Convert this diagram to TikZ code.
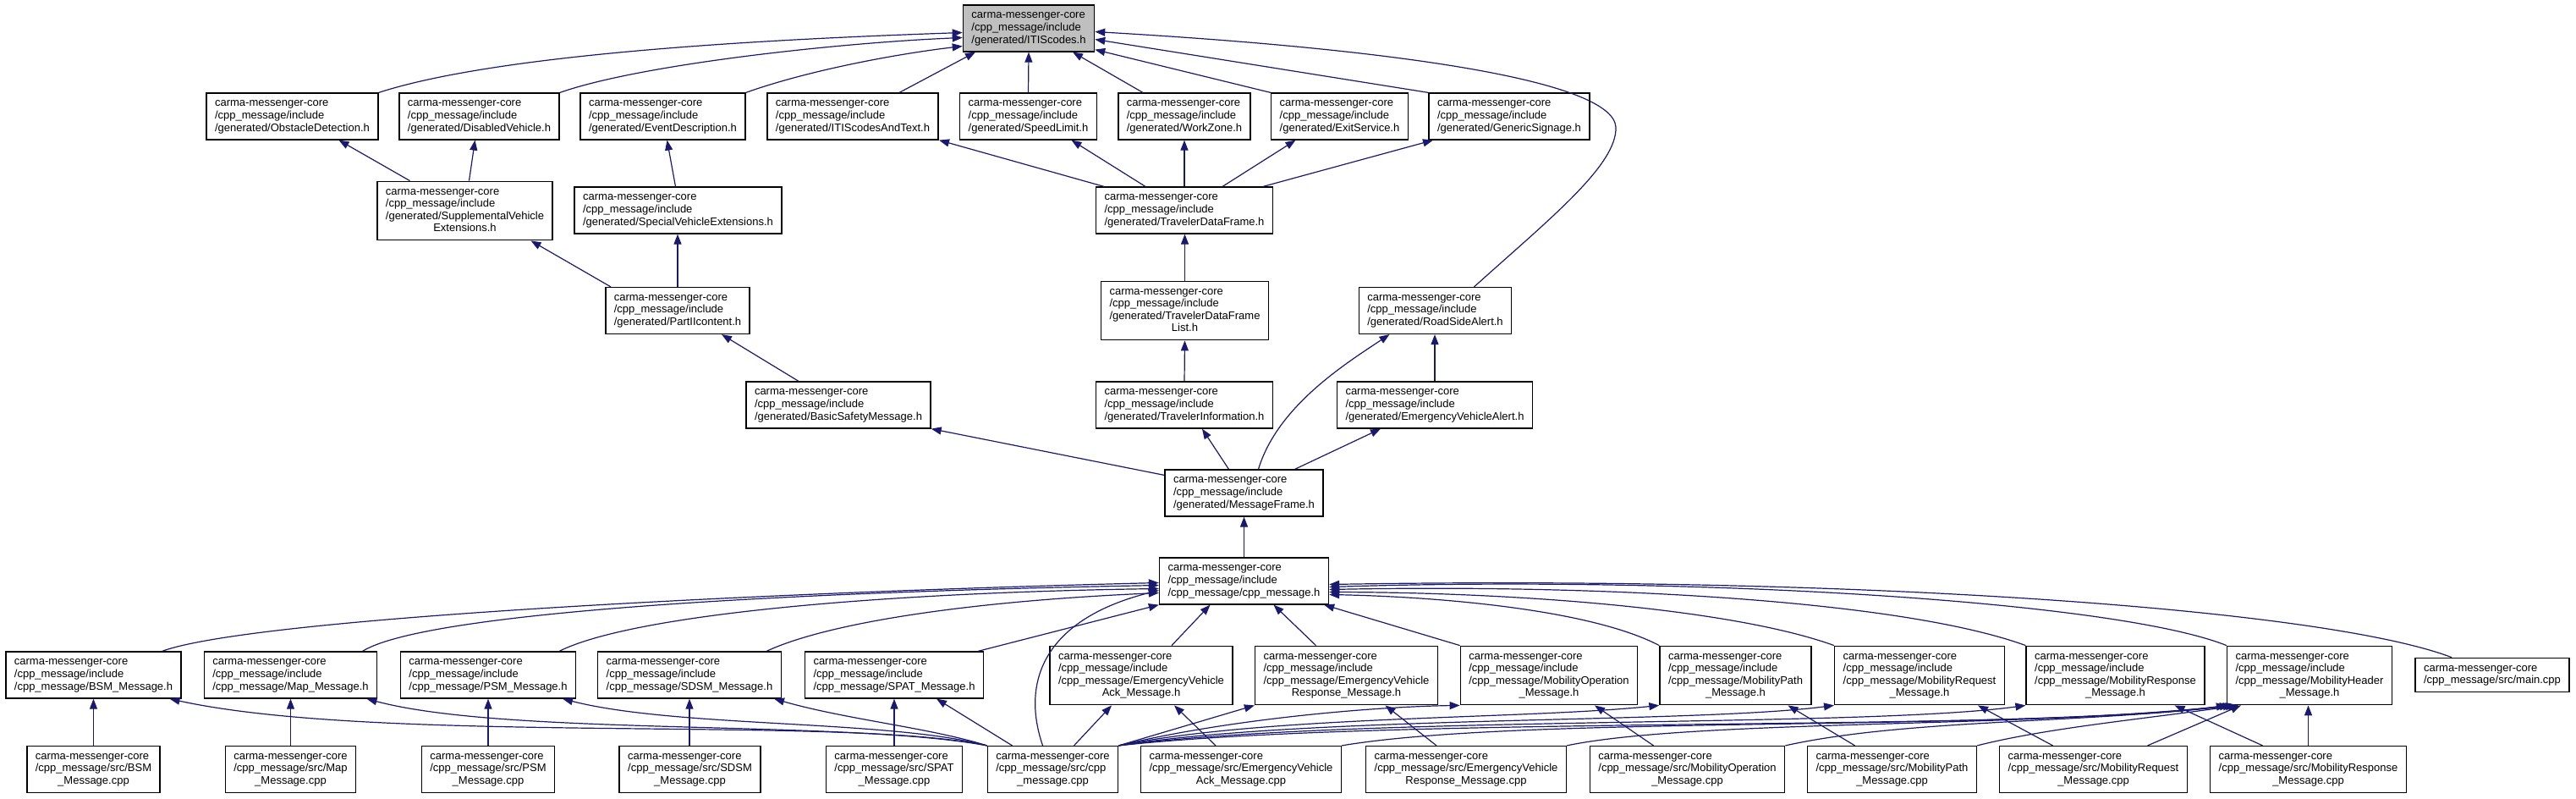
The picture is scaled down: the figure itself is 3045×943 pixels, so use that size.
\documentclass[tikz,border=0pt]{standalone}
\usepackage{fontspec}
\setmainfont{Liberation Sans}
\usetikzlibrary{arrows.meta,calc}
\definecolor{edgeblue}{HTML}{191970}
\newcommand{\flabel}[2]{\begin{tabular}{@{}l@{}}#1\\\multicolumn{1}{@{}c@{}}{#2}\end{tabular}}
\newcommand{\cmc}{carma-messenger-core}
\newcommand{\inc}{carma-messenger-core\\/cpp\_message/include}

\begin{document}
\begin{tikzpicture}[
  x=1pt, y=-1pt,
  file/.style={draw, line width=1.4pt, fill=white, inner xsep=10pt,
    inner ysep=5.5pt, font=\fontsize{13}{14.6}\selectfont},
  dep/.style={draw=edgeblue, line width=1.2pt},
  >={Triangle[length=12pt,width=9pt]},
]
\useasboundingbox (0,0) rectangle (3045,943);
\node[file, fill=gray!50] (ITIS) at (1216,33.5) {\flabel{\inc}{/generated/ITIScodes.h}};
\node[file] (OD) at (345.5,137.5) {\flabel{\inc}{/generated/ObstacleDetection.h}};
\node[file] (DV) at (566.5,137.5) {\flabel{\inc}{/generated/DisabledVehicle.h}};
\node[file] (ED) at (783.5,137.5) {\flabel{\inc}{/generated/EventDescription.h}};
\node[file] (IT) at (1008,137.5) {\flabel{\inc}{/generated/ITIScodesAndText.h}};
\node[file] (SL) at (1215.5,137.5) {\flabel{\inc}{/generated/SpeedLimit.h}};
\node[file] (WZ) at (1400,137.5) {\flabel{\inc}{/generated/WorkZone.h}};
\node[file] (ES) at (1583.5,137.5) {\flabel{\inc}{/generated/ExitService.h}};
\node[file] (GS) at (1784,137.5) {\flabel{\inc}{/generated/GenericSignage.h}};
\node[file] (SVE) at (549.5,249) {\flabel{\inc\\/generated/SupplementalVehicle}{Extensions.h}};
\node[file] (SPVE) at (801.5,248.5) {\flabel{\inc}{/generated/SpecialVehicleExtensions.h}};
\node[file] (TDF) at (1400,248.5) {\flabel{\inc}{/generated/TravelerDataFrame.h}};
\node[file] (PIIC) at (801,367) {\flabel{\inc}{/generated/PartIIcontent.h}};
\node[file] (TDFL) at (1400.5,367) {\flabel{\inc\\/generated/TravelerDataFrame}{List.h}};
\node[file] (RSA) at (1696.5,367) {\flabel{\inc}{/generated/RoadSideAlert.h}};
\node[file] (BSM) at (991,478.5) {\flabel{\inc}{/generated/BasicSafetyMessage.h}};
\node[file] (TI) at (1400,478.5) {\flabel{\inc}{/generated/TravelerInformation.h}};
\node[file] (EVA) at (1696,478.5) {\flabel{\inc}{/generated/EmergencyVehicleAlert.h}};
\node[file] (MF) at (1470.5,582.5) {\flabel{\inc}{/generated/MessageFrame.h}};
\node[file] (CPPH) at (1470.5,686.5) {\flabel{\inc}{/cpp\_message/cpp\_message.h}};

\node[file] (BSMH) at (110.5,797.5) {\flabel{\inc}{/cpp\_message/BSM\_Message.h}};
\node[file] (MAPH) at (343.5,797.5) {\flabel{\inc}{/cpp\_message/Map\_Message.h}};
\node[file] (PSMH) at (577,797.5) {\flabel{\inc}{/cpp\_message/PSM\_Message.h}};
\node[file] (SDSMH) at (815,797.5) {\flabel{\inc}{/cpp\_message/SDSM\_Message.h}};
\node[file] (SPATH) at (1057,797.5) {\flabel{\inc}{/cpp\_message/SPAT\_Message.h}};
\node[file] (EVAH) at (1349,798) {\flabel{\inc\\/cpp\_message/EmergencyVehicle}{Ack\_Message.h}};
\node[file] (EVRH) at (1591.5,798) {\flabel{\inc\\/cpp\_message/EmergencyVehicle}{Response\_Message.h}};
\node[file] (MOH) at (1831,798) {\flabel{\inc\\/cpp\_message/MobilityOperation}{\_Message.h}};
\node[file] (MPH) at (2051.5,798) {\flabel{\inc\\/cpp\_message/MobilityPath}{\_Message.h}};
\node[file] (MRQH) at (2269,798) {\flabel{\inc\\/cpp\_message/MobilityRequest}{\_Message.h}};
\node[file] (MRSH) at (2500.5,798) {\flabel{\inc\\/cpp\_message/MobilityResponse}{\_Message.h}};
\node[file] (MHH) at (2730,798) {\flabel{\inc\\/cpp\_message/MobilityHeader}{\_Message.h}};
\node[file] (MAIN) at (2946,797.5) {\flabel{\cmc}{/cpp\_message/src/main.cpp}};

\node[file] (BSMC) at (110.5,909) {\flabel{\cmc\\/cpp\_message/src/BSM}{\_Message.cpp}};
\node[file] (MAPC) at (343.5,909) {\flabel{\cmc\\/cpp\_message/src/Map}{\_Message.cpp}};
\node[file] (PSMC) at (577,909) {\flabel{\cmc\\/cpp\_message/src/PSM}{\_Message.cpp}};
\node[file] (SDSMC) at (815.5,909) {\flabel{\cmc\\/cpp\_message/src/SDSM}{\_Message.cpp}};
\node[file] (SPATC) at (1057,909) {\flabel{\cmc\\/cpp\_message/src/SPAT}{\_Message.cpp}};
\node[file] (CPPC) at (1244.5,909) {\flabel{\cmc\\/cpp\_message/src/cpp}{\_message.cpp}};
\node[file] (EVAC) at (1467,909) {\flabel{\cmc\\/cpp\_message/src/EmergencyVehicle}{Ack\_Message.cpp}};
\node[file] (EVRC) at (1733,909) {\flabel{\cmc\\/cpp\_message/src/EmergencyVehicle}{Response\_Message.cpp}};
\node[file] (MOC) at (1994.5,909) {\flabel{\cmc\\/cpp\_message/src/MobilityOperation}{\_Message.cpp}};
\node[file] (MPC) at (2236.5,909) {\flabel{\cmc\\/cpp\_message/src/MobilityPath}{\_Message.cpp}};
\node[file] (MRQC) at (2474.5,909) {\flabel{\cmc\\/cpp\_message/src/MobilityRequest}{\_Message.cpp}};
\node[file] (MRSC) at (2728.5,909) {\flabel{\cmc\\/cpp\_message/src/MobilityResponse}{\_Message.cpp}};

% includes of ITIScodes.h
\draw[dep,->] (OD.north east) .. controls (600,60) and (950,45) .. ([yshift=-5]ITIS.west);
\draw[dep,->] (DV.north east) .. controls (760,75) and (1000,50) .. ([yshift=-11]ITIS.west);
\draw[dep,->] (ED.north east) .. controls (950,85) and (1050,65) .. ([yshift=-21]ITIS.west);
\draw[dep,->] ([xshift=55]IT.north) -- ([xshift=-63]ITIS.south);
\draw[dep,->] (SL.north) -- (ITIS.south);
\draw[dep,->] ([xshift=-49]WZ.north) -- ([xshift=52]ITIS.south);
\draw[dep,->] (ES.north west) -- ([yshift=3]ITIS.south east);
\draw[dep,->] (GS.north west) -- ([yshift=-13]ITIS.east);
\draw[dep,->] ([xshift=46]RSA.north) .. controls (1830,260) and (1912,195) .. (1910,150)
  .. controls (1906,95) and (1650,58) .. ([yshift=-4]ITIS.east);

\draw[dep,->] ([xshift=-65]SVE.north) -- ([xshift=55]OD.south);
\draw[dep,->] ([xshift=5]SVE.north) -- ([xshift=-5]DV.south);
\draw[dep,->] ([xshift=-3]SPVE.north) -- ([xshift=5]ED.south);
\draw[dep,->] ([xshift=-95]TDF.north) -- ([xshift=102]IT.south);
\draw[dep,->] ([xshift=-46]TDF.north) -- ([xshift=51]SL.south);
\draw[dep,->] (TDF.north) -- (WZ.south);
\draw[dep,->] ([xshift=45]TDF.north) -- ([xshift=-52]ES.south);
\draw[dep,->] ([xshift=93]TDF.north) -- ([xshift=-90]GS.south);

\draw[dep,->] ([xshift=-79]PIIC.north) -- ([xshift=78]SVE.south);
\draw[dep,->] (PIIC.north) -- ([xshift=-0.5]SPVE.south);
\draw[dep,->] (TDFL.north) -- ([xshift=0.5]TDF.south);
\draw[dep,->] ([xshift=-47]BSM.north) -- ([xshift=52]PIIC.south);
\draw[dep,->] (TI.north) -- (TDFL.south);
\draw[dep,->] (EVA.north) -- ([xshift=-0.5]RSA.south);

\draw[dep,->] ([yshift=-7]MF.north west) -- (BSM.south east);
\draw[dep,->] ([xshift=-18]MF.north) -- ([xshift=21]TI.south);
\draw[dep,->] ([xshift=17]MF.north) .. controls (1510,480) and (1590,430) .. ([xshift=-54]RSA.south);
\draw[dep,->] ([xshift=60]MF.north) -- ([xshift=-64]EVA.south);
\draw[dep,->] (CPPH.north) -- (MF.south);

% includes of cpp_message.h
\draw[dep,->] ([xshift=81]BSMH.north) .. controls (300,730) and (900,700) .. ([yshift=-2]CPPH.west);
\draw[dep,->] ([xshift=85]MAPH.north) .. controls (500,725) and (900,700) .. ([yshift=-5]CPPH.west);
\draw[dep,->] ([xshift=84]PSMH.north) .. controls (750,725) and (1050,700) .. ([yshift=-9]CPPH.west);
\draw[dep,->] ([xshift=91]SDSMH.north) .. controls (980,735) and (1150,710) .. ([yshift=-14]CPPH.west);
\draw[dep,->] ([xshift=-12]CPPC.north) .. controls (1205,800) and (1240,730) .. ([yshift=-11]CPPH.west);
\draw[dep,->] ([xshift=99]SPATH.north) -- (CPPH.south west);
\draw[dep,->] ([xshift=36]EVAH.north) -- ([xshift=-40]CPPH.south);
\draw[dep,->] ([xshift=-36]EVRH.north) -- ([xshift=35]CPPH.south);
\draw[dep,->] (MOH.north west) -- ([xshift=-6]CPPH.south east);
\draw[dep,->] (MPH.north west) .. controls (1880,720) and (1700,705) .. ([yshift=-16]CPPH.east);
\draw[dep,->] (MRQH.north west) .. controls (2050,720) and (1800,700) .. ([yshift=-13]CPPH.east);
\draw[dep,->] (MRSH.north west) .. controls (2250,710) and (1900,690) .. ([yshift=-10]CPPH.east);
\draw[dep,->] (MHH.north west) .. controls (2500,710) and (2000,680) .. ([yshift=-7]CPPH.east);
\draw[dep,->] ([xshift=-48]MAIN.north) .. controls (2750,720) and (2200,680) .. ([yshift=-4]CPPH.east);

\draw[dep,->] (BSMC.north) -- (BSMH.south);
\draw[dep,->] (MAPC.north) -- (MAPH.south);
\draw[dep,->] (PSMC.north) -- (PSMH.south);
\draw[dep,->] ([xshift=-0.5]SDSMC.north) -- (SDSMH.south);
\draw[dep,->] (SPATC.north) -- (SPATH.south);

% cpp_message.cpp
\draw[dep,->] (CPPC.north west) .. controls (1000,845) and (450,880) .. ([xshift=90]BSMH.south);
\draw[dep,->] (CPPC.north west) .. controls (1000,850) and (600,870) .. ([xshift=90]MAPH.south);
\draw[dep,->] (CPPC.north west) .. controls (1050,850) and (800,860) .. ([xshift=88]PSMH.south);
\draw[dep,->] (CPPC.north west) .. controls (1100,860) and (1000,850) .. ([xshift=100]SDSMH.south);
\draw[dep,->] ([xshift=-48]CPPC.north) -- ([xshift=50]SPATH.south);
\draw[dep,->] ([xshift=25]CPPC.north) -- ([xshift=-35]EVAH.south);
\draw[dep,->] (CPPC.north east) -- (EVRH.south west);
\draw[dep,->] (CPPC.north east) .. controls (1450,850) and (1620,835) .. (MOH.south west);
\draw[dep,->] (CPPC.north east) .. controls (1500,845) and (1800,850) .. (MPH.south west);
\draw[dep,->] (CPPC.north east) .. controls (1550,845) and (2000,855) .. (MRQH.south west);
\draw[dep,->] (CPPC.north east) .. controls (1600,845) and (2200,860) .. (MRSH.south west);
\draw[dep,->] (CPPC.north east) .. controls (1650,845) and (2400,865) .. (MHH.south west);

\draw[dep,->] ([xshift=-30]EVAC.north) -- ([xshift=39]EVAH.south);
\draw[dep,->] ([xshift=-35]EVRC.north) -- ([xshift=46]EVRH.south);
\draw[dep,->] ([xshift=-40]MOC.north) -- ([xshift=54]MOH.south);
\draw[dep,->] ([xshift=-44]MPC.north) -- ([xshift=62]MPH.south);
\draw[dep,->] ([xshift=-48]MRQC.north) -- ([xshift=69]MRQH.south);
\draw[dep,->] ([xshift=-54]MRSC.north) -- ([xshift=70]MRSH.south);

% includes of MobilityHeader_Message.h
\draw[dep,->] (EVAC.north east) .. controls (1800,845) and (2350,865) .. ([xshift=4]MHH.south west);
\draw[dep,->] (EVRC.north east) .. controls (2000,850) and (2400,860) .. ([xshift=8]MHH.south west);
\draw[dep,->] (MOC.north east) .. controls (2250,850) and (2450,855) .. ([xshift=11]MHH.south west);
\draw[dep,->] (MPC.north east) .. controls (2420,860) and (2530,850) .. ([xshift=14]MHH.south west);
\draw[dep,->] ([xshift=64]MRQC.north) -- ([xshift=17]MHH.south west);
\draw[dep,->] (MRSC.north) -- ([xshift=-1.5]MHH.south);
\end{tikzpicture}
\end{document}
